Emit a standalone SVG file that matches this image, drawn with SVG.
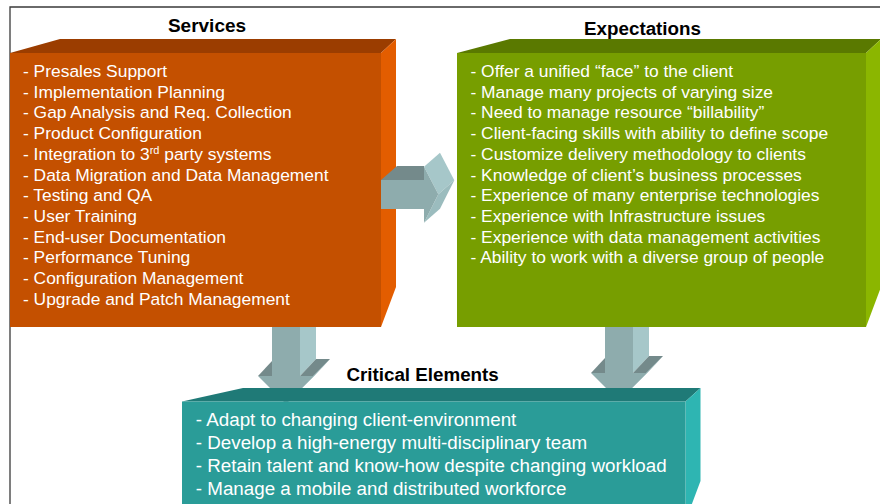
<svg xmlns="http://www.w3.org/2000/svg" width="880" height="504" viewBox="0 0 880 504">
<style>
.t{font-family:"Liberation Sans",Arial,sans-serif;font-weight:bold;fill:#000;text-anchor:middle}
.it{font-family:"Liberation Sans",Arial,sans-serif;font-size:17.4px;fill:#fff}
.ic{font-family:"Liberation Sans",Arial,sans-serif;font-size:18.8px;fill:#fff}
.af{fill:#8eacad}
.ad{fill:#748a8b}
.al{fill:#a6c7c9}
.am{fill:#9bbcbe}
</style>
<rect width="880" height="504" fill="#fff"/>
<path d="M10,504 V7 H880" fill="none" stroke="#3a3a3a" stroke-width="1.3"/>

<g id="services">
<text class="t" x="207" y="32" font-size="19">Services</text>
<polygon points="10,53 60,39 396,39 381,53" fill="#9b3d00"/>
<polygon points="381,53 396,39 396,287 381,327" fill="#e35d00"/>
<rect x="10" y="53" width="371" height="274" fill="#c45000"/>
<text class="it" x="23" y="77">- Presales Support</text>
<text class="it" x="23" y="97.7">- Implementation Planning</text>
<text class="it" x="23" y="118.4">- Gap Analysis and Req. Collection</text>
<text class="it" x="23" y="139.1">- Product Configuration</text>
<text class="it" x="23" y="159.8">- Integration to 3<tspan font-size="11" dy="-6">rd</tspan><tspan dy="6"> party systems</tspan></text>
<text class="it" x="23" y="180.5">- Data Migration and Data Management</text>
<text class="it" x="23" y="201.2">- Testing and QA</text>
<text class="it" x="23" y="221.9">- User Training</text>
<text class="it" x="23" y="242.6">- End-user Documentation</text>
<text class="it" x="23" y="263.3">- Performance Tuning</text>
<text class="it" x="23" y="284">- Configuration Management</text>
<text class="it" x="23" y="304.7">- Upgrade and Patch Management</text>
</g>

<g id="expectations">
<text class="t" x="642.5" y="35" font-size="18.8">Expectations</text>
<polygon points="457,53 510,39 881,39 866,53" fill="#5a7900"/>
<polygon points="866,53 881,39 881,287 866,327" fill="#8bb600"/>
<rect x="457" y="53" width="409" height="274" fill="#779e00"/>
<text class="it" x="470.5" y="77">- Offer a unified “face” to the client</text>
<text class="it" x="470.5" y="97.7">- Manage many projects of varying size</text>
<text class="it" x="470.5" y="118.4">- Need to manage resource “billability”</text>
<text class="it" x="470.5" y="139.1">- Client-facing skills with ability to define scope</text>
<text class="it" x="470.5" y="159.8">- Customize delivery methodology to clients</text>
<text class="it" x="470.5" y="180.5">- Knowledge of client’s business processes</text>
<text class="it" x="470.5" y="201.2">- Experience of many enterprise technologies</text>
<text class="it" x="470.5" y="221.9">- Experience with Infrastructure issues</text>
<text class="it" x="470.5" y="242.6">- Experience with data management activities</text>
<text class="it" x="470.5" y="263.3">- Ability to work with a diverse group of people</text>
</g>

<g id="connectors">
<g id="arrow-services-expectations">
<polygon class="ad" points="381,180 397,166 424,166 424,180"/>
<polygon class="al" points="424,166.7 440,152.7 454.3,180.3 438.3,194.3"/>
<polygon class="am" points="438.3,194.3 454.3,180.3 440,208.7 424,222.7"/>
<polygon class="af" points="381,180 424,180 424,166.7 438.3,194.3 424,222.7 424,209 381,209"/>
</g>
<g id="arrow-services-critical">
<polygon class="al" points="300,327 316,327 316,359 300,376"/>
<polygon class="ad" points="300,376 314,376 330,359 316,359"/>
<polygon class="al" points="314,376 330,359 302,387 286,404"/>
<polygon class="ad" points="258,376 272,376 272,361"/>
<polygon class="af" points="272,327 300,327 300,376 314,376 286,404 258,376 272,376"/>
</g>
<g id="arrow-expectations-critical">
<polygon class="al" points="633,327 649,327 649,356 633,373"/>
<polygon class="ad" points="633,373 647,373 663,356 649,356"/>
<polygon class="al" points="647,373 663,356 635,384 619,401"/>
<polygon class="ad" points="591,373 605,373 605,358"/>
<polygon class="af" points="605,327 633,327 633,373 647,373 619,401 591,373 605,373"/>
</g>
</g>

<g id="critical">
<text class="t" x="422.6" y="380.5" font-size="18.8">Critical Elements</text>
<polygon points="182,401.5 243,388 700.5,388 685.5,401.5" fill="#1f7a77"/>
<polygon points="685.5,401.5 700.5,388 700.5,481 685.5,521" fill="#2eb5b2"/>
<rect x="182" y="401.5" width="503.5" height="120" fill="#2a9c98"/>
<text class="ic" x="195.8" y="426">- Adapt to changing client-environment</text>
<text class="ic" x="195.8" y="449">- Develop a high-energy multi-disciplinary team</text>
<text class="ic" x="195.8" y="472">- Retain talent and know-how despite changing workload</text>
<text class="ic" x="195.8" y="494.5">- Manage a mobile and distributed workforce</text>
</g>
</svg>
